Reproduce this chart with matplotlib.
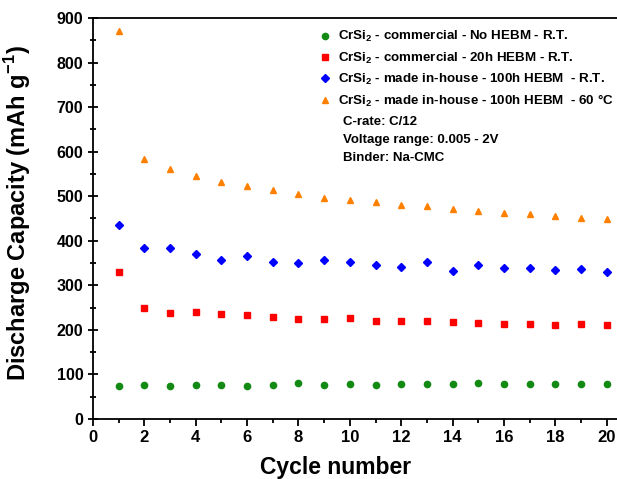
import matplotlib.pyplot as plt

plt.rcParams['font.family'] = ['Liberation Sans', 'DejaVu Sans']
plt.rcParams['font.weight'] = 'bold'
plt.rcParams['mathtext.fontset'] = 'custom'
plt.rcParams['mathtext.rm'] = 'Liberation Sans:bold'
plt.rcParams['mathtext.bf'] = 'Liberation Sans:bold'

cycles = list(range(1, 21))

no_hebm = [74, 77, 75, 76, 76, 75, 76, 80, 76, 78,
           77, 78, 79, 78, 80, 78, 78, 79, 78, 78]
hebm_20h = [330, 248, 239, 240, 235, 234, 230, 224, 224, 226,
            221, 221, 221, 218, 216, 213, 213, 212, 213, 211]
inhouse_rt = [435, 384, 384, 370, 356, 366, 352, 349, 356, 352,
              346, 342, 352, 333, 346, 340, 340, 335, 337, 329]
inhouse_60 = [871, 584, 561, 545, 533, 522, 513, 504, 497, 492,
              486, 480, 477, 471, 466, 462, 459, 456, 452, 449]

labels = [r'CrSi$_\mathbf{2}$ - commercial - No HEBM - R.T.',
          r'CrSi$_\mathbf{2}$ - commercial - 20h HEBM - R.T.',
          r'CrSi$_\mathbf{2}$ - made in-house - 100h HEBM  - R.T.',
          r'CrSi$_\mathbf{2}$ - made in-house - 100h HEBM  - 60 °C']
notes = ['C-rate: C/12', 'Voltage range: 0.005 - 2V', 'Binder: Na-CMC']

fig = plt.figure(figsize=(6.17, 4.79), dpi=100)
ax = fig.add_axes([0.1507, 0.1253, 0.8493, 0.8371])

ax.plot(cycles, no_hebm, 'o', color='#138a13', ms=4.5, ls='none', label=labels[0])
ax.plot(cycles, hebm_20h, 's', color='#ff0000', ms=4.3, ls='none', label=labels[1])
ax.plot(cycles, inhouse_rt, 'D', color='#0000ff', ms=4.3, ls='none', label=labels[2])
ax.plot(cycles, inhouse_60, '^', color='#ff8000', ms=5, ls='none', label=labels[3])

ax.set_xlim(0, 20.4)
ax.set_ylim(0, 900)
ax.set_xticks(range(0, 21, 2))
ax.set_xticks(range(1, 21, 2), minor=True)
ax.set_yticks(range(0, 901, 100))
ax.set_yticks(range(50, 900, 100), minor=True)

ax.spines['right'].set_visible(False)
for s in ax.spines.values():
    s.set_linewidth(1.3)
ax.tick_params(axis='x', which='major', direction='out', length=5, width=1.3, labelsize=12, pad=3)
ax.tick_params(axis='x', which='minor', direction='out', length=3, width=1.3)
ax.tick_params(axis='y', which='major', direction='inout', length=7, width=1.3, labelsize=11.5)
ax.tick_params(axis='y', which='minor', direction='inout', length=4, width=1.3)

ax.set_xlabel('Cycle number', fontsize=16.5, fontweight='bold')
ax.set_ylabel(r'Discharge Capacity (mAh g$^{\mathbf{-1}}$)', fontsize=17, fontweight='bold')
ax.xaxis.set_label_coords(0.4637, -0.092)
ax.yaxis.set_label_coords(-0.114, 0.514)

leg = ax.legend(loc='upper left', bbox_to_anchor=(0.42, 0.985), frameon=False,
                fontsize=9.6, handletextpad=0.45, labelspacing=0.45, handlelength=1.0,
                borderaxespad=0)

for i, t in enumerate(notes):
    fig.text(343 / 617, 1 - (122 + 18 * i) / 479, t, fontsize=9.5, fontweight='bold',
             va='center', ha='left')

fig.savefig('out.png', dpi=100)
